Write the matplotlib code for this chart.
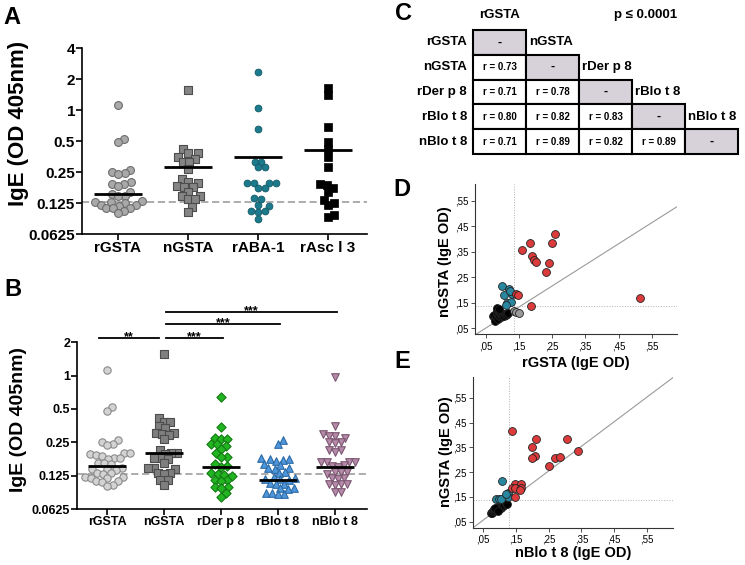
import numpy as np
import matplotlib
matplotlib.use('Agg')
import matplotlib.pyplot as plt
from matplotlib.patches import Rectangle
from matplotlib.ticker import FuncFormatter, NullLocator

plt.rcParams['font.family'] = ['Liberation Sans', 'DejaVu Sans']
plt.rcParams['font.weight'] = 'bold'

# ---- data ---------------------------------------------------------------
# panel A: IgE OD values per allergen, line = value drawn as bar
a_names = ['rGSTA', 'nGSTA', 'rABA-1', 'rAsc l 3']
a_rgsta = [1.12, 0.52, 0.487, 0.262, 0.252, 0.243, 0.238, 0.201, 0.192, 0.192, 0.183, 0.161,
           0.152, 0.147, 0.147, 0.13, 0.128, 0.128, 0.124, 0.12, 0.12, 0.118, 0.111, 0.111,
           0.111, 0.105, 0.101]
a_ngsta = [1.57, 0.418, 0.38, 0.38, 0.354, 0.333, 0.316, 0.31, 0.268, 0.214, 0.2, 0.195,
           0.183, 0.18, 0.178, 0.161, 0.147, 0.145, 0.136, 0.136, 0.115, 0.103]
a_raba = [2.34, 1.04, 0.652, 0.316, 0.316, 0.278, 0.278, 0.198, 0.198, 0.198, 0.198, 0.177,
          0.177, 0.141, 0.138, 0.121, 0.118, 0.103, 0.105, 0.105, 0.0876]
a_rasc = [1.66, 1.41, 0.682, 0.494, 0.416, 0.354, 0.282, 0.19, 0.187, 0.177, 0.161, 0.134,
          0.126, 0.12, 0.096, 0.091]
a_lines = [0.152, 0.283, 0.349, 0.41]

# panel B
b_names = ['rGSTA', 'nGSTA', 'rDer p 8', 'rBlo t 8', 'nBlo t 8']
b_rgsta = [1.125, 0.518, 0.483, 0.262, 0.254, 0.24, 0.236, 0.2, 0.2, 0.195, 0.192, 0.19,
           0.18, 0.18, 0.178, 0.163, 0.161, 0.158, 0.146, 0.144, 0.144, 0.142, 0.132, 0.131,
           0.13, 0.122, 0.121, 0.12, 0.119, 0.113, 0.112, 0.11, 0.104, 0.101]
b_ngsta = [1.57, 0.412, 0.384, 0.384, 0.35, 0.335, 0.306, 0.306, 0.3, 0.29, 0.266, 0.213,
           0.2, 0.2, 0.198, 0.18, 0.18, 0.178, 0.162, 0.146, 0.146, 0.143, 0.132, 0.132,
           0.13, 0.114, 0.114, 0.103]
b_rder = [0.637, 0.342, 0.275, 0.266, 0.266, 0.241, 0.24, 0.232, 0.216, 0.199, 0.186, 0.186,
          0.159, 0.153, 0.151, 0.131, 0.13, 0.127, 0.125, 0.114, 0.114, 0.113, 0.099, 0.099,
          0.097, 0.088, 0.081]
b_rblo = [0.262, 0.242, 0.18, 0.178, 0.176, 0.174, 0.17, 0.16, 0.155, 0.148, 0.146, 0.145,
          0.135, 0.132, 0.122, 0.118, 0.117, 0.116, 0.115, 0.108, 0.106, 0.105, 0.097, 0.096,
          0.095, 0.088, 0.087, 0.086, 0.085]
b_nblo = [0.98, 0.351, 0.3, 0.287, 0.287, 0.275, 0.25, 0.25, 0.245, 0.213, 0.213, 0.205,
          0.167, 0.167, 0.167, 0.165, 0.155, 0.153, 0.15, 0.134, 0.134, 0.134, 0.13, 0.12,
          0.118, 0.117, 0.105, 0.105, 0.105, 0.104, 0.089, 0.089]
b_lines = [0.153, 0.199, 0.151, 0.114, 0.149]
b_sig = [(0, 1, '**'), (1, 2, '***'), (1, 3, '***'), (1, 4, '***')]
cutoff = 0.129

# panel C: correlation r values (lower triangle)
c_names = ['rGSTA', 'nGSTA', 'rDer p 8', 'rBlo t 8', 'nBlo t 8']
c_r = [[], [0.73], [0.71, 0.78], [0.80, 0.82, 0.83], [0.71, 0.89, 0.82, 0.89]]

# panel D: rGSTA (x) vs nGSTA (y)
d_red_x = [0.26, 0.183, 0.25, 0.16, 0.19, 0.196, 0.203, 0.24, 0.233, 0.14, 0.146, 0.188, 0.516]
d_red_y = [0.42, 0.385, 0.385, 0.355, 0.335, 0.318, 0.309, 0.305, 0.272, 0.185, 0.182, 0.139, 0.168]
d_blue_x = [0.10, 0.121, 0.128, 0.104, 0.115, 0.125, 0.11, 0.124]
d_blue_y = [0.217, 0.204, 0.184, 0.18, 0.148, 0.152, 0.14, 0.195]
d_grey_x = [0.136, 0.141, 0.15]
d_grey_y = [0.119, 0.114, 0.109]
d_black_x = [0.072, 0.075, 0.077, 0.079, 0.081, 0.083, 0.084, 0.086, 0.088, 0.089, 0.091, 0.093,
             0.095, 0.097, 0.099, 0.102, 0.105, 0.108, 0.111, 0.114, 0.118, 0.085, 0.09]
d_black_y = [0.098, 0.104, 0.085, 0.078, 0.094, 0.11, 0.12, 0.1, 0.088, 0.115, 0.097, 0.107,
             0.093, 0.11, 0.1, 0.104, 0.097, 0.107, 0.102, 0.106, 0.108, 0.128, 0.124]

# panel E: nBlo t 8 (x) vs nGSTA (y)
e_red_x = [0.137, 0.212, 0.306, 0.199, 0.207, 0.199, 0.27, 0.284, 0.339, 0.25, 0.147, 0.166,
           0.137, 0.147, 0.166, 0.163, 0.148]
e_red_y = [0.416, 0.383, 0.383, 0.352, 0.316, 0.308, 0.305, 0.309, 0.336, 0.274, 0.204, 0.204,
           0.187, 0.187, 0.184, 0.178, 0.151]
e_blue_x = [0.108, 0.125, 0.126, 0.088, 0.097, 0.105, 0.12]
e_blue_y = [0.215, 0.167, 0.151, 0.14, 0.14, 0.142, 0.16]
e_black_x = [0.074, 0.076, 0.078, 0.08, 0.082, 0.084, 0.086, 0.088, 0.09, 0.092, 0.094, 0.096,
             0.098, 0.1, 0.103, 0.106, 0.11, 0.114, 0.118, 0.122, 0.085, 0.095]
e_black_y = [0.084, 0.09, 0.086, 0.095, 0.092, 0.1, 0.097, 0.103, 0.1, 0.106, 0.098, 0.108,
             0.104, 0.11, 0.107, 0.112, 0.114, 0.117, 0.12, 0.122, 0.105, 0.095]

# ---- helpers --------------------------------------------------------------
W, H = 745, 565
fig = plt.figure(figsize=(W / 100, H / 100), dpi=100)


def rect(l, t, r, b):
    return [l / W, 1 - b / H, (r - l) / W, (b - t) / H]


def swarm(vals, ppy, d):
    # simple beeswarm in pixel space, returns x offsets in pixels
    y = np.log2(np.asarray(vals)) * ppy
    xs = np.zeros(len(y))
    placed = []
    for i in np.argsort(y):
        cands = [0.0]
        for j in placed:
            dy = y[i] - y[j]
            if abs(dy) < d:
                dx = np.sqrt(d * d - dy * dy)
                cands += [xs[j] + dx, xs[j] - dx]
        cands.sort(key=lambda c: (abs(c), -c))
        for c in cands:
            if all((c - xs[j]) ** 2 + (y[i] - y[j]) ** 2 >= d * d - 1e-6 for j in placed):
                xs[i] = c
                break
        placed.append(i)
    return xs


def dot_panel(ax, names, groups, lines, styles, ppy, ppx, d, ticks, ticksize):
    for k, (vals, st) in enumerate(zip(groups, styles)):
        xo = swarm(vals, ppy, d) / ppx
        ax.scatter(k + xo, vals, zorder=3, clip_on=False, **st)
    x = np.arange(len(names))
    ax.hlines(lines, x - 0.34, x + 0.34, color='black', lw=2, zorder=4)
    ax.axhline(cutoff, color='#a6a6a6', lw=1.3, ls=(0, (4, 2)), zorder=2)
    ax.set_yscale('log', base=2)
    ax.set_yticks(ticks)
    ax.set_yticklabels([('%g' % t) for t in ticks])
    ax.yaxis.set_minor_locator(NullLocator())
    ax.set_xticks(x)
    ax.set_xticklabels(names)
    for s in ['top', 'right']:
        ax.spines[s].set_visible(False)
    for s in ['left', 'bottom']:
        ax.spines[s].set_linewidth(1.2)
    ax.tick_params(length=4, width=1.2, labelsize=ticksize, pad=1)
    ax.set_facecolor('none')


# ---- panel A --------------------------------------------------------------
axA = fig.add_axes(rect(82, 48.3, 367, 234))
stA = [dict(marker='o', s=32, fc='#a9a9a9', ec='#6e6e6e', lw=0.8),
       dict(marker='s', s=30, fc='#858585', ec='#4d4d4d', lw=0.8),
       dict(marker='o', s=24, fc='#1b7b8c', ec='#135866', lw=0.6),
       dict(marker='s', s=30, fc='black', ec='black', lw=0.5)]
dot_panel(axA, a_names, [a_rgsta, a_ngsta, a_raba, a_rasc], a_lines, stA,
          30.95, 70, 6.6, [0.0625, 0.125, 0.25, 0.5, 1, 2, 4], 11)
axA.set_ylim(0.0625, 4)
axA.set_xlim(-0.514, 3.557)

# ---- panel B --------------------------------------------------------------
axB = fig.add_axes(rect(77, 342.3, 367, 509))
stB = [dict(marker='o', s=28, fc='#d3d3d3', ec='#8a8a8a', lw=0.8),
       dict(marker='s', s=28, fc='#7f7f7f', ec='#4d4d4d', lw=0.8),
       dict(marker='D', s=22, fc='#22b522', ec='#137a13', lw=0.8),
       dict(marker='^', s=30, fc='#4f97dc', ec='#2c6aa5', lw=0.8),
       dict(marker='v', s=30, fc='#b68aa9', ec='#7a5670', lw=0.8)]
dot_panel(axB, b_names, [b_rgsta, b_ngsta, b_rder, b_rblo, b_nblo], b_lines, stB,
          33.33, 57, 6.2, [0.0625, 0.125, 0.25, 0.5, 1, 2], 9)
axB.set_ylim(0.0625, 2)
axB.set_xlim(-0.526, 4.56)

# significance bars (x in data, y in axes fraction)
trB = axB.get_xaxis_transform()
sig_level = [1.028, 1.028, 1.11, 1.18]
for (i, j, lab), yb in zip(b_sig, sig_level):
    x0 = i - 0.14 if i == 0 else i + 0.04
    x1 = j - 0.09 if i == 0 else j + 0.03
    axB.plot([x0, x1], [yb, yb], color='black', lw=1.3, transform=trB, clip_on=False)
    axB.text((x0 + x1) / 2, yb - 0.013, lab, transform=trB, ha='center', va='baseline',
             fontsize=9)

# ---- overlay in pixel coordinates (labels, table) -----------------------------
ov = fig.add_axes([0, 0, 1, 1])
ov.set_xlim(0, W)
ov.set_ylim(H, 0)
ov.axis('off')

for lab, x, y in [('A', 12, 18), ('B', 13, 289), ('C', 404, 14), ('D', 402, 190), ('E', 402, 362)]:
    ov.text(x, y, lab, fontsize=17, ha='center', va='center')

ov.text(19, 123, 'IgE (OD 405nm)', rotation=90, fontsize=16, ha='center', va='center')
ov.text(19, 419, 'IgE (OD 405nm)', rotation=90, fontsize=14, ha='center', va='center')

# panel C table
col0, cw = 473.3, 53.0
row0, rh = 30.0, 24.8
for i, name in enumerate(c_names):
    yc = row0 + rh * (i + 0.5)
    ov.text(467, yc, name, ha='right', va='center', fontsize=9.5)
    for j in range(i + 1):
        diag = (j == i)
        ov.add_patch(Rectangle((col0 + cw * j, row0 + rh * i), cw, rh,
                               fc='#d7d1da' if diag else 'white', ec='black', lw=1.5))
        txt = '-' if diag else 'r = %.2f' % c_r[i][j]
        ov.text(col0 + cw * (j + 0.5), yc, txt, ha='center', va='center',
                fontsize=9 if diag else 7)
    if i == 0:
        ov.text(col0 + cw / 2, 15, name, ha='center', va='center', fontsize=9.5)
    else:
        ov.text(col0 + cw * i + 3, row0 + rh * (i - 0.5), name, ha='left', va='center',
                fontsize=9.5)
ov.text(646, 15, 'p \u2264 0.0001', ha='center', va='center', fontsize=9.5)


# ---- panels D and E -----------------------------------------------------------
def scatter_panel(ax, groups, xlim, ylim, line_pt, slope, xcut, ycut):
    ax.set_xlim(*xlim)
    ax.set_ylim(*ylim)
    ax.axvline(xcut, color='#b0b0b0', lw=0.7, ls=':', zorder=1)
    ax.axhline(ycut, color='#b0b0b0', lw=0.7, ls=':', zorder=1)
    ax.axline(line_pt, slope=slope, color='#9a9a9a', lw=0.8, zorder=1)
    for xs, ys, col in groups:
        ax.scatter(xs, ys, s=32, fc=col, ec='#222222', lw=0.6, zorder=3)
    ticks = [0.05, 0.15, 0.25, 0.35, 0.45, 0.55]
    fmt = FuncFormatter(lambda v, p: ('%.2f' % v)[1:].replace('.', ','))
    ax.set_xticks(ticks)
    ax.set_yticks(ticks)
    ax.xaxis.set_major_formatter(fmt)
    ax.yaxis.set_major_formatter(fmt)
    for s in ['top', 'right']:
        ax.spines[s].set_visible(False)
    for s in ['left', 'bottom']:
        ax.spines[s].set_linewidth(0.8)
        ax.spines[s].set_color('#333333')
    ax.tick_params(length=3, width=0.6, labelsize=7, pad=2, colors='#333333')
    for t in ax.get_xticklabels() + ax.get_yticklabels():
        t.set_fontweight('normal')
        t.set_color('black')
    ax.set_facecolor('none')


red, blue, grey = '#dc3b3b', '#2a87a0', '#9a9a9a'
axD = fig.add_axes(rect(475, 184, 676.7, 334.3))
scatter_panel(axD, [(d_black_x, d_black_y, 'black'), (d_grey_x, d_grey_y, grey),
                    (d_blue_x, d_blue_y, blue), (d_red_x, d_red_y, red)],
              (0.018, 0.625), (0.0265, 0.615), (0.021, 0.0265), 0.826, 0.136, 0.138)
ov.text(576, 363, 'rGSTA (IgE OD)', ha='center', va='center', fontsize=10.5)
ov.text(445, 262, 'nGSTA (IgE OD)', ha='center', va='center', fontsize=10.5, rotation=90)

axE = fig.add_axes(rect(473.3, 376.7, 672.7, 527.7))
scatter_panel(axE, [(e_black_x, e_black_y, 'black'), (e_blue_x, e_blue_y, blue),
                    (e_red_x, e_red_y, red)],
              (0.0194, 0.6295), (0.0258, 0.6347), (0.019, 0.026), 0.99, 0.13, 0.137)
ov.text(573, 553, 'nBlo t 8 (IgE OD)', ha='center', va='center', fontsize=10.5)
ov.text(446, 452, 'nGSTA (IgE OD)', ha='center', va='center', fontsize=10.5, rotation=90)

fig.savefig('out.png', dpi=100)
